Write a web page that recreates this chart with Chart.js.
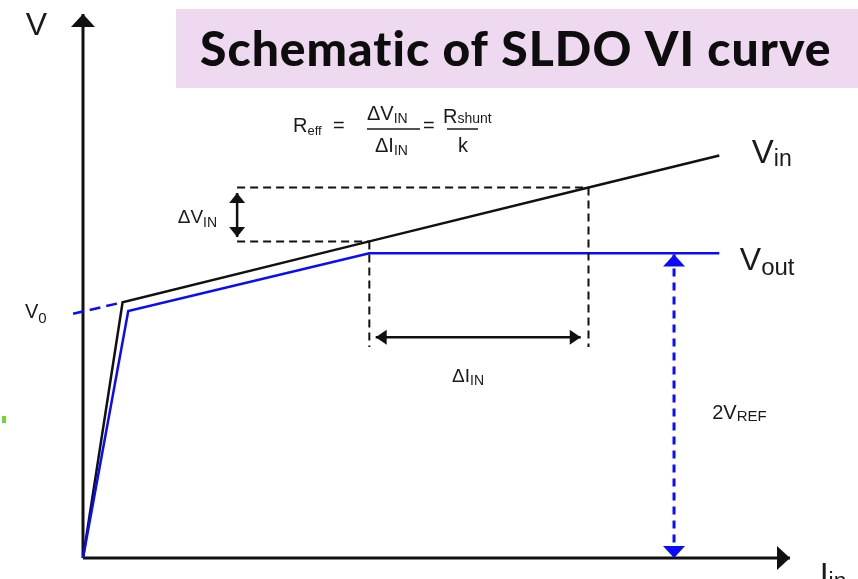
<!DOCTYPE html>
<html>
<head>
<meta charset="utf-8">
<script src="https://cdn.jsdelivr.net/npm/chart.js@4.4.1/dist/chart.umd.min.js"></script>
<style>
  html, body { margin: 0; padding: 0; background: #fff; }
  #wrap { width: 858px; height: 579px; }
</style>
</head>
<body>
<div id="wrap"><canvas id="vi" width="858" height="579"></canvas></div>
<script>
// Schematic units: input current I (x) and voltage V (y)
const vinCurrent = [0, 0.56, 4.05, 7.15, 9.0];
const vinVoltage = [0, 4.7, 5.82, 6.81, 7.4];

const voutCurrent = [0, 0.64, 4.05, 9.0];
const voutVoltage = [0, 4.54, 5.6, 5.6];

// extrapolation of the Vin slope back to the V axis (V0)
const v0Current = [-0.14, 0.56];
const v0Voltage = [4.49, 4.7];

// construction lines for the dV / dI read-out
const dvTopCurrent = [2.18, 7.15];
const dvTopVoltage = [6.81, 6.81];
const dvLowCurrent = [2.18, 4.05];
const dvLowVoltage = [5.82, 5.82];
const leftDropCurrent = [4.05, 4.05];
const leftDropVoltage = [5.82, 3.88];
const rightDropCurrent = [7.15, 7.15];
const rightDropVoltage = [6.81, 3.88];

const dvArrowCurrent = [2.18, 2.18];
const dvArrowVoltage = [6.71, 5.9];
const diArrowCurrent = [4.14, 7.04];
const diArrowVoltage = [4.06, 4.06];
const vrefArrowCurrent = [8.36, 8.36];
const vrefArrowVoltage = [5.58, 0];

const axisXCurrent = [0, 10];
const axisXVoltage = [0, 0];
const axisYCurrent = [0, 0];
const axisYVoltage = [0, 10];

const INK = '#111';
const BLUE = '#0a0aff';
const SANS = '"Liberation Sans", Arial, sans-serif';

function series(xs, ys, style) {
    return Object.assign({
        data: xs.map((x, i) => ({ x: x, y: ys[i] })),
        showLine: true,
        fill: false,
        pointRadius: 0,
        borderCapStyle: 'butt',
        borderJoinStyle: 'miter'
    }, style);
}

// text labels, anchored in data units (left edge, baseline)
const labels = [
    { at: [-0.81, 9.61], main: 'V', size: 32 },
    { at: [9.46, 7.26], main: 'V', sub: 'in', size: 33, subSize: 23, drop: 3 },
    { at: [9.29, 5.29], main: 'V', sub: 'out', size: 32, subSize: 24, drop: 5 },
    { at: [-0.82, 4.41], main: 'V', sub: '0', size: 20, subSize: 15, drop: 5 },
    { at: [1.34, 6.16], main: '\u0394V', sub: 'IN', size: 19, subSize: 14, drop: 4 },
    { at: [5.22, 3.24], main: '\u0394I', sub: 'IN', size: 19, subSize: 14, drop: 3 },
    { at: [8.9, 2.56], main: '2V', sub: 'REF', size: 20, subSize: 15, drop: 2 },
    { at: [10.42, -0.5], main: 'I', sub: 'in', size: 32, subSize: 23, drop: 4 }
];

function drawSub(ctx, x, y, main, sub, size, subSize, drop) {
    ctx.font = size + 'px ' + SANS;
    ctx.fillText(main, x, y);
    let w = ctx.measureText(main).width;
    if (sub) {
        ctx.font = subSize + 'px ' + SANS;
        ctx.fillText(sub, x + w, y + drop);
        w += ctx.measureText(sub).width;
    }
    return w;
}

// filled arrow heads at the ends of datasets that ask for them
const arrowHeads = {
    id: 'arrowHeads',
    afterDatasetsDraw(chart) {
        const ctx = chart.ctx;
        chart.data.datasets.forEach((ds, i) => {
            if (!ds.heads) return;
            const pts = chart.getDatasetMeta(i).data;
            const ends = [];
            if (ds.heads.start) ends.push([pts[0], pts[1]]);
            if (ds.heads.end) ends.push([pts[pts.length - 1], pts[pts.length - 2]]);
            ends.forEach(([tip, from]) => {
                const a = Math.atan2(tip.y - from.y, tip.x - from.x);
                const bx = tip.x - Math.cos(a) * ds.heads.len;
                const by = tip.y - Math.sin(a) * ds.heads.len;
                const px = -Math.sin(a) * ds.heads.half;
                const py = Math.cos(a) * ds.heads.half;
                ctx.save();
                ctx.fillStyle = ds.borderColor;
                ctx.beginPath();
                ctx.moveTo(tip.x, tip.y);
                ctx.lineTo(bx + px, by + py);
                ctx.lineTo(bx - px, by - py);
                ctx.closePath();
                ctx.fill();
                ctx.restore();
            });
        });
    }
};

const annotations = {
    id: 'annotations',
    afterDraw(chart) {
        const ctx = chart.ctx;
        const sx = chart.scales.x, sy = chart.scales.y;
        ctx.save();

        // title banner
        ctx.fillStyle = '#efd9f1';
        ctx.fillRect(176, 9, 682, 79);
        ctx.fillStyle = '#0d0d0d';
        ctx.font = '900 48px Lato, "Open Sans", sans-serif';
        ctx.letterSpacing = '1px';
        ctx.textBaseline = 'alphabetic';
        ctx.fillText('Schematic of SLDO VI curve', 200, 66, 640);
        ctx.letterSpacing = '0px';

        // stray green mark at the left margin
        ctx.fillStyle = '#6cd82a';
        ctx.fillRect(2, 416, 4, 7);

        ctx.fillStyle = '#1a1a1a';
        labels.forEach(l => {
            drawSub(ctx, sx.getPixelForValue(l.at[0]), sy.getPixelForValue(l.at[1]),
                l.main, l.sub, l.size, l.subSize, l.drop);
        });

        // R_eff = dV_IN / dI_IN = R_shunt / k
        drawSub(ctx, 293, 132, 'R', 'eff', 20, 13, 3);
        drawSub(ctx, 333, 132, '=', null, 20);
        drawSub(ctx, 367, 120, '\u0394V', 'IN', 20, 14, 3);
        drawSub(ctx, 375, 152, '\u0394I', 'IN', 20, 14, 3);
        drawSub(ctx, 423, 132, '=', null, 20);
        drawSub(ctx, 443, 123, 'R', 'shunt', 20, 14, 0);
        drawSub(ctx, 458, 152, 'k', null, 20);
        ctx.strokeStyle = '#1a1a1a';
        ctx.lineWidth = 1.5;
        ctx.beginPath();
        ctx.moveTo(367, 129); ctx.lineTo(420, 129);
        ctx.moveTo(447, 129); ctx.lineTo(478, 129);
        ctx.stroke();

        ctx.restore();
    }
};

const dashed = { borderColor: INK, borderWidth: 2, borderDash: [8, 5] };

new Chart(document.getElementById('vi'), {
    type: 'scatter',
    data: {
        datasets: [
            series(dvTopCurrent, dvTopVoltage, dashed),
            series(dvLowCurrent, dvLowVoltage, dashed),
            series(leftDropCurrent, leftDropVoltage, dashed),
            series(rightDropCurrent, rightDropVoltage, dashed),
            series(v0Current, v0Voltage, { borderColor: BLUE, borderWidth: 2.5, borderDash: [11, 6] }),
            series(voutCurrent, voutVoltage, { label: 'Vout', borderColor: BLUE, borderWidth: 2.5 }),
            series(vinCurrent, vinVoltage, { label: 'Vin', borderColor: INK, borderWidth: 2.5 }),
            series(vrefArrowCurrent, vrefArrowVoltage, {
                borderColor: BLUE, borderWidth: 3, borderDash: [8, 6],
                heads: { start: true, end: true, len: 12, half: 11 }
            }),
            series(dvArrowCurrent, dvArrowVoltage, {
                borderColor: INK, borderWidth: 2.5,
                heads: { start: true, end: true, len: 10, half: 8 }
            }),
            series(diArrowCurrent, diArrowVoltage, {
                borderColor: INK, borderWidth: 2.5,
                heads: { start: true, end: true, len: 11, half: 7.5 }
            }),
            series(axisXCurrent, axisXVoltage, {
                borderColor: INK, borderWidth: 3,
                heads: { end: true, len: 13, half: 12 }
            }),
            series(axisYCurrent, axisYVoltage, {
                borderColor: INK, borderWidth: 3,
                heads: { end: true, len: 13, half: 12 }
            })
        ]
    },
    options: {
        responsive: false,
        animation: false,
        events: [],
        layout: { padding: 0 },
        plugins: {
            legend: { display: false },
            tooltip: { enabled: false },
            title: { display: false }
        },
        scales: {
            x: { type: 'linear', display: false, min: -1.174, max: 10.962 },
            y: { type: 'linear', display: false, min: -0.386, max: 10.257 }
        }
    },
    plugins: [arrowHeads, annotations]
});
</script>
</body>
</html>
